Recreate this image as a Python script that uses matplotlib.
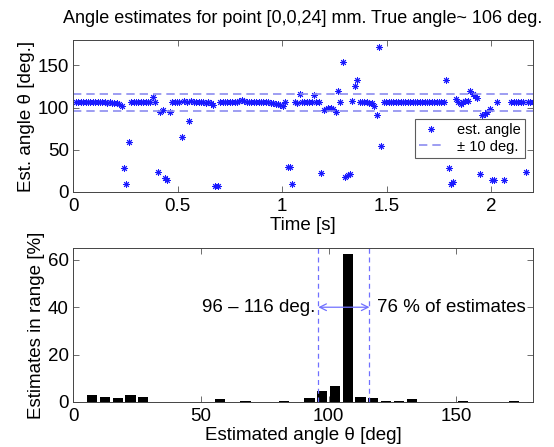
import numpy as np
import matplotlib
matplotlib.use("Agg")
import matplotlib.pyplot as plt

plt.rcParams['font.family'] = ['Liberation Sans', 'DejaVu Sans']

# --- data -----------------------------------------------------------------
# angle estimate per frame (deg), nan = no estimate in that frame
t_start = 0.014
frame_step = 0.0115
angles = [
    107, 107, 107, 107, 107, 106, 107, 106, 106, 106, 106, 106, 106, 105, 106, 105, 105, 105, 104, 102,
    29, 9, 59,
    106, 106, 106, 106, 106, 106, 107, 106, 106,
    112, 106, 24, 95, 97, 16, 14, 95,
    107, 107, 107, 107, 65, 108, 107, 84,
    108, 107, 107, 107, 106, 106, 105, 106, 105, 103,
    7, 7,
    106, 106, 106, 107, 107, 107, 107, 107, 108, 109, 108, 107, 107, 107, 107, 107, 106, 107, 106, 106,
    106, 105, 105, 104, 104, 103,
    102, 106, 30, 30, 9, 106, 105, 116,
    106, 106, 107, 106, 106, 115, 106, 106, 23,
    97, 98, 99, 100, 98, 95,
    120, 106, 154, 18, 20, 21, 108, 125, 133,
    107, 106, 106, 106, 105, 105, 102, 91, 172, 55,
    106, 106, 106, 106, 107, 107, 107, 107, 107, 107, 107, 107, 106, 107, 106, 106, 106, 106, 106, 106,
    106, 106, 106, 106, 107,
    107, 133, 29, 9, 12,
    110, 106, 104, 106, 108, 108,
    120, 116, 114, 111, 21,
    91, 92, 95, 98,
    14, 14, 106, np.nan, np.nan, 14, np.nan, np.nan,
    106, 106, 106, 106, 106, 106, 24, 106, 106, 106,
]
band = [96, 116]

# histogram of estimates (5 deg bins)
bin_centers = [7.5, 12.5, 17.5, 22.5, 27.5, 57.5, 67.5, 82.5, 92.5, 97.5,
               102.5, 107.5, 112.5, 117.5, 122.5, 127.5, 132.5, 152.5, 172.5]
bin_pct = [2.8, 2.25, 1.7, 2.8, 2.25, 1.1, 0.56, 0.56, 1.7, 4.5,
           6.9, 62.5, 2.25, 1.7, 0.56, 0.56, 1.1, 0.56, 0.56]
pct_in_band = 76

angles = np.array(angles, dtype=float)
t = t_start + frame_step * np.arange(len(angles))

line_col = '#8c8cf0'
fs = 13.5

fig = plt.figure(figsize=(5.54, 4.47), dpi=100)
ax1 = fig.add_axes([0.1318, 0.5705, 0.8303, 0.3400])
ax2 = fig.add_axes([0.1318, 0.1007, 0.8303, 0.3445])

# --- top: estimates over time ---------------------------------------------
ax1.plot(t, angles, ls='none', marker=(8, 2, 0), ms=4.8, mew=0.7,
         color='#1a1aff', label='est. angle')
ax1.axhline(band[0], color=line_col, ls=(0, (5, 3)), lw=1.2, label='± 10 deg.')
ax1.axhline(band[1], color=line_col, ls=(0, (5, 3)), lw=1.2)
ax1.set_xlim(0, 2.2)
ax1.set_ylim(0, 180)
ax1.set_xticks([0, 0.5, 1, 1.5, 2])
ax1.set_xticklabels(['0', '0.5', '1', '1.5', '2'])
ax1.set_yticks([0, 50, 100, 150])
ax1.set_xlabel('Time [s]', fontsize=fs, labelpad=2)
ax1.set_ylabel('Est. angle θ [deg.]', fontsize=fs, labelpad=2)
leg = ax1.legend(loc='upper right', bbox_to_anchor=(0.983, 0.48), fontsize=10.5,
                 frameon=True, fancybox=False, edgecolor='#333333',
                 handlelength=1.6, borderpad=0.3, labelspacing=0.15,
                 handletextpad=1.0, borderaxespad=0)
leg.get_frame().set_linewidth(0.8)

# --- bottom: histogram ----------------------------------------------------
ax2.bar(bin_centers, bin_pct, width=4, color='black')
for b in band:
    ax2.axvline(b, color='#7070ff', ls=(0, (4, 3)), lw=0.9)
ax2.annotate('', xy=(band[0], 40), xytext=(band[1], 40),
             arrowprops=dict(arrowstyle='<->', color='#7070ff', lw=0.9,
                             shrinkA=0, shrinkB=0, mutation_scale=12))
ax2.text(band[0] - 1.0, 40, f'{band[0]} – {band[1]} deg.', ha='right', va='center', fontsize=fs)
ax2.text(band[1] + 3, 40, f'{pct_in_band} % of estimates', ha='left', va='center', fontsize=fs)
ax2.set_xlim(0, 180)
ax2.set_ylim(0, 65)
ax2.set_xticks([0, 50, 100, 150])
ax2.set_yticks([0, 20, 40, 60])
ax2.set_xlabel('Estimated angle θ [deg]', fontsize=fs, labelpad=2)
ax2.set_ylabel('Estimates in range [%]', fontsize=fs, labelpad=2)

for ax in (ax1, ax2):
    ax.tick_params(direction='in', top=True, right=True, length=4,
                   width=0.6, labelsize=fs, color='#555555')
    ax.tick_params(axis='x', pad=4)
    ax.tick_params(axis='y', pad=3)
    for sp in ax.spines.values():
        sp.set_linewidth(0.7)
        sp.set_color('#444444')

fig.text(0.547, 0.9575, 'Angle estimates for point [0,0,24] mm. True angle~ 106 deg.',
         ha='center', va='center', fontsize=13)

fig.savefig('out.png', dpi=100)
